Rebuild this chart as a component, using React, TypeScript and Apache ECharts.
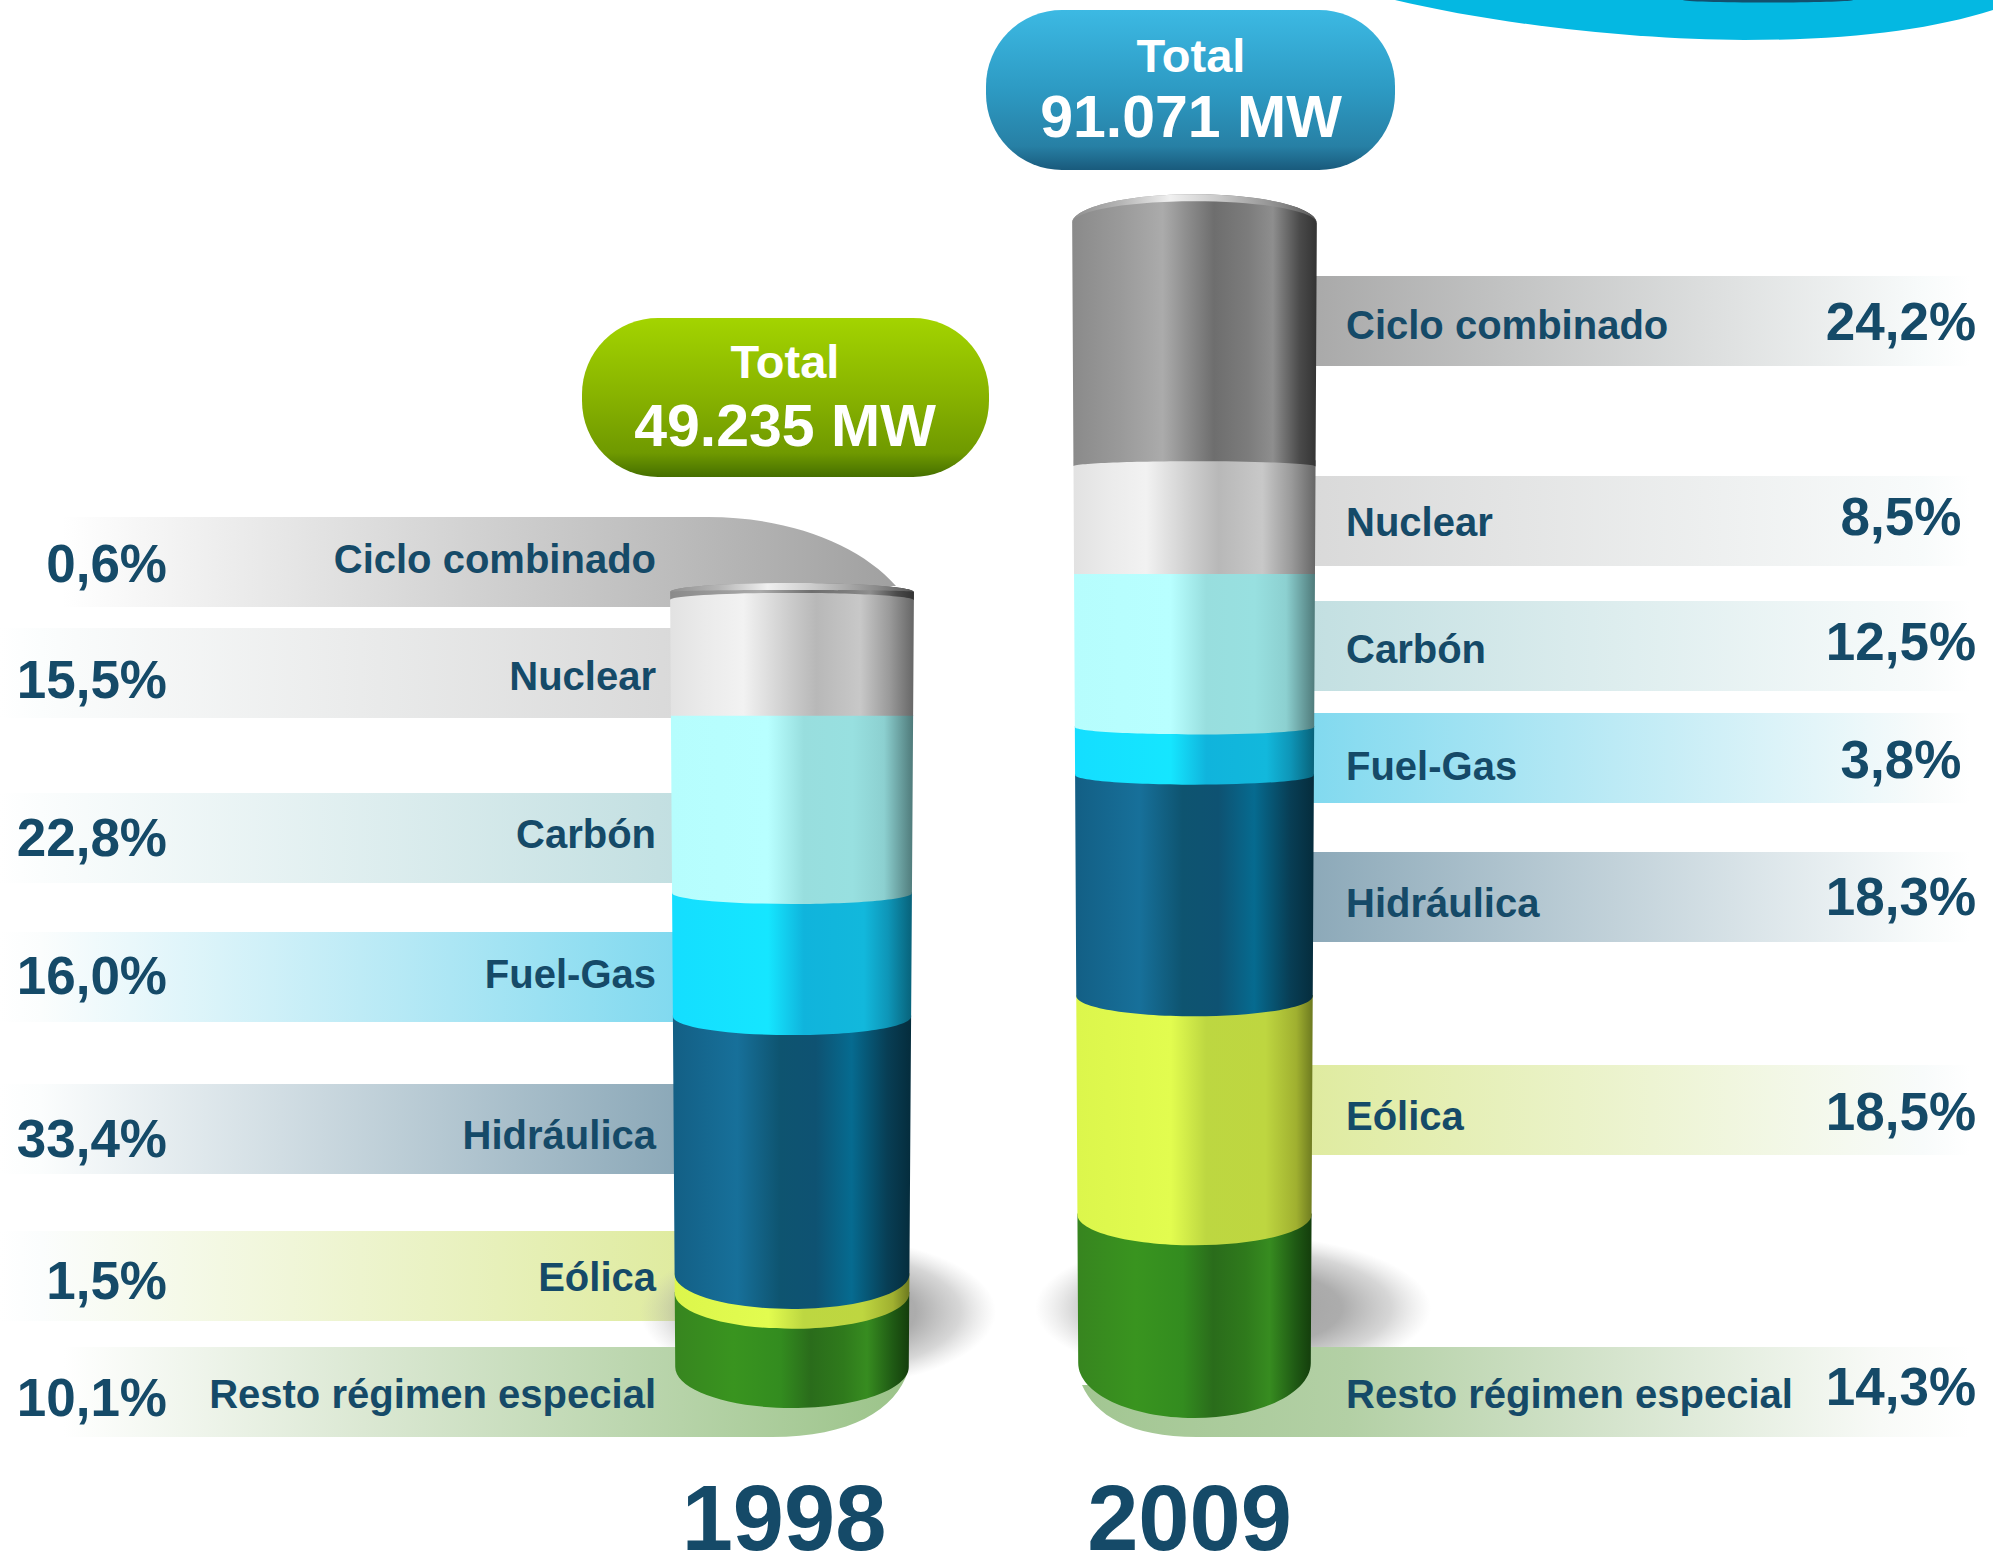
import React, { useEffect, useRef } from "react";
import * as echarts from "echarts";

// ---- data ----
const sources = ["Ciclo combinado", "Nuclear", "Carbón", "Fuel-Gas", "Hidráulica", "Eólica", "Resto régimen especial"];
const years = ["1998", "2009"];
const totalLabel = "Total";
const totals = ["49.235 MW", "91.071 MW"];
const percent1998 = ["0,6%", "15,5%", "22,8%", "16,0%", "33,4%", "1,5%", "10,1%"];
const percent2009 = ["24,2%", "8,5%", "12,5%", "3,8%", "18,3%", "18,5%", "14,3%"];
// share of the column height each band takes as drawn (top to bottom), in %
const drawn1998 = [1.2, 14.9, 22.8, 15.9, 33.2, 2.4, 9.6];
const drawn2009 = [21.8, 9.2, 13.1, 4.1, 18.9, 18.7, 14.1];

// ---- layout (not data) ----
const BAND_H = 90;
const leftBandTops = [517, 628, 793, 932, 1084, 1231, 1347];
const rightBandTops = [276, 476, 601, 713, 852, 1065, 1347];
const leftLabelY = [559, 676, 834, 974, 1135, 1277, 1394];
const leftPctY = [563, 679, 837, 975, 1138, 1280, 1397];
const rightLabelY = [325, 522, 649, 766, 903, 1116, 1394];
const rightPctY = [321, 516, 641, 759, 896, 1111, 1386];
const bandColors = ["#a8a8a8", "#d9d9d9", "#c2dfe1", "#80d9ef", "#8ba8b8", "#dfeb9f", "#a8cb98"];
const TEXT = "#154a68";
const FONT = '"Liberation Sans", Arial, sans-serif';

type Stop = [number, string];
const surfaces: Stop[][] = [
  [[0, "#8a8a8a"], [0.2, "#9a9a9a"], [0.37, "#ababab"], [0.47, "#8d8d8d"], [0.58, "#6e6e6e"], [0.72, "#7c7c7c"], [0.82, "#8e8e8e"], [0.93, "#4a4a4a"], [1, "#333333"]],
  [[0, "#e2e2e2"], [0.15, "#ebebeb"], [0.3, "#f2f2f2"], [0.5, "#cacaca"], [0.6, "#b8b8b8"], [0.78, "#c8c8c8"], [0.9, "#9a9a9a"], [1, "#666666"]],
  [[0, "#b6fdfd"], [0.4, "#b8ffff"], [0.55, "#98dede"], [0.75, "#98e0e0"], [0.88, "#8cd0d0"], [1, "#4f7a7a"]],
  [[0, "#14deff"], [0.4, "#15e6ff"], [0.55, "#10b4dc"], [0.8, "#12b8dc"], [0.9, "#0e96b8"], [1, "#08627a"]],
  [[0, "#135f85"], [0.27, "#17709a"], [0.45, "#0e5470"], [0.6, "#0e5272"], [0.75, "#066b90"], [0.9, "#083e55"], [1, "#052c3c"]],
  [[0, "#dcf64c"], [0.4, "#e2fc4f"], [0.55, "#bdd741"], [0.8, "#bed640"], [0.93, "#a0b030"], [1, "#6d7a20"]],
  [[0, "#37851f"], [0.25, "#39941f"], [0.45, "#338c1f"], [0.58, "#2a6c1b"], [0.72, "#2f7a1c"], [0.82, "#378c20"], [0.93, "#1f5a14"], [1, "#143d0c"]],
];

// geometry of the two cylinders: sag of a seam grows with the distance from the eye-level line
const cyl = [
  { left: 670, width: 244, top: 583, bottom: 1408, horizon: 715, k: 0.062, lidSag: 9, bottomSag: 41, taper: 5.5 },
  { left: 1072, width: 245, top: 193, bottom: 1418, horizon: 573, k: 0.048, lidSag: 29, bottomSag: 55, taper: 6.5 },
];

function linear(stops: Stop[]) {
  return new echarts.graphic.LinearGradient(0, 0, 1, 0, stops.map(([offset, color]) => ({ offset, color })));
}
function vertical(stops: Stop[]) {
  return new echarts.graphic.LinearGradient(0, 0, 0, 1, stops.map(([offset, color]) => ({ offset, color })));
}

const K = 0.5523;
function arc(xr: number, xl: number, y: number, s: number) {
  const c = (xr + xl) / 2;
  const r = (xr - xl) / 2;
  return `C ${xr} ${y + K * s} ${c + K * r} ${y + s} ${c} ${y + s} C ${c - K * r} ${y + s} ${xl} ${y + K * s} ${xl} ${y}`;
}

function makeRender(i: number) {
  const g = cyl[i];
  const n = sources.length;
  const inset = (y: number) => ((y - g.top) / (g.bottom - g.top)) * g.taper;
  return (_params: any, api: any) => {
    const idx = api.value(3);
    const yLow = api.coord([0, api.value(1)])[1];
    const yHigh = api.coord([0, api.value(2)])[1];
    const isTop = idx === 0;
    const isBottom = idx === n - 1;
    const seamEdge = (c: number) => (c + g.k * g.horizon) / (1 + g.k);
    const topEdge = isTop ? yHigh + g.lidSag : seamEdge(yHigh);
    const botEdge = isBottom ? yLow - g.bottomSag : seamEdge(yLow);
    const botSag = yLow - botEdge;
    const topSag = yHigh - topEdge;
    const xlT = g.left + inset(topEdge);
    const xrT = g.left + g.width - inset(topEdge);
    const xlB = g.left + inset(botEdge);
    const xrB = g.left + g.width - inset(botEdge);
    const cT = (xlT + xrT) / 2;
    const rT = (xrT - xlT) / 2;
    // outline: top boundary (lid arc or straight), right side, bottom arc, left side
    const top = isTop
      ? `M ${xlT} ${topEdge} C ${xlT} ${topEdge + K * topSag} ${cT - K * rT} ${topEdge + topSag} ${cT} ${topEdge + topSag} C ${cT + K * rT} ${topEdge + topSag} ${xrT} ${topEdge + K * topSag} ${xrT} ${topEdge}`
      : `M ${xlT} ${Math.min(topEdge, yHigh) - 1} L ${xrT} ${Math.min(topEdge, yHigh) - 1} L ${xrT} ${topEdge}`;
    const path = `${top} L ${xrB} ${botEdge} ${arc(xrB, xlB, botEdge, botSag)} Z`;
    const children: any[] = [
      { type: "path", shape: { pathData: path }, style: { fill: linear(surfaces[idx]) } },
    ];
    if (isTop) {
      const s2 = topSag + 7;
      const rim = `M ${xlT} ${topEdge} C ${xlT} ${topEdge + K * topSag} ${cT - K * rT} ${topEdge + topSag} ${cT} ${topEdge + topSag} C ${cT + K * rT} ${topEdge + topSag} ${xrT} ${topEdge + K * topSag} ${xrT} ${topEdge} C ${xrT} ${topEdge + K * s2} ${cT + K * rT} ${topEdge + s2} ${cT} ${topEdge + s2} C ${cT - K * rT} ${topEdge + s2} ${xlT} ${topEdge + K * s2} ${xlT} ${topEdge} Z`;
      children.push({
        type: "path",
        shape: { pathData: rim },
        style: {
          fill: linear([[0, "#8f8f8f"], [0.2, "#b5b5b5"], [0.4, "#f0f0f0"], [0.6, "#c9c9c9"], [0.85, "#8a8a8a"], [1, "#555555"]]),
        },
      });
    }
    return { type: "group", children };
  };
}

function seriesData(i: number, shares: number[]) {
  const out: any[] = [];
  let cum = 0;
  for (let s = shares.length - 1; s >= 0; s--) {
    out.push([years[i], cum, cum + shares[s], s]);
    cum += shares[s];
  }
  return out;
}

const leftCicloPath = "M 0 517 L 708 517 C 790 517 860 545 896 586 L 672 592 L 672 607 L 0 607 Z";
const leftRestoPath = "M 0 1347 L 800 1347 L 800 1371 L 908 1371 C 896 1410 850 1437 772 1437 L 0 1437 Z";
const rightRestoPath = "M 1195 1347 L 1970 1347 L 1970 1437 L 1197 1437 C 1130 1437 1095 1415 1082 1385 L 1195 1385 Z";
const swooshPath = "M 1395 0 C 1500 25 1640 40 1744 40 C 1850 40 1930 30 1993 10 L 1993 0 Z";
echarts.graphic.registerShape("leftCiclo", echarts.graphic.extendPath(leftCicloPath, {}));
echarts.graphic.registerShape("leftResto", echarts.graphic.extendPath(leftRestoPath, {}));
echarts.graphic.registerShape("rightResto", echarts.graphic.extendPath(rightRestoPath, {}));
echarts.graphic.registerShape("swoosh", echarts.graphic.extendPath(swooshPath, {}));

function text(t: string, x: number, y: number, size: number, align: string, fill = TEXT) {
  return {
    type: "text",
    x,
    y,
    z: 20,
    style: {
      text: t,
      fill,
      font: `bold ${size}px ${FONT}`,
      textAlign: align,
      align,
      textVerticalAlign: "middle",
      verticalAlign: "middle",
    },
  };
}

function buildGraphics() {
  const els: any[] = [];
  // top-right swoosh
  els.push({ type: "swoosh", z: 1, style: { fill: "#04b8e2" } });
  els.push({ type: "ellipse", z: 1, shape: { cx: 1768, cy: 0, rx: 85, ry: 2.5 }, style: { fill: "#13506e" } });

  // bands
  for (let i = 0; i < sources.length; i++) {
    const color = bandColors[i];
    if (i === 0) {
      els.push({
        type: "leftCiclo",
        z: 2,
        style: { fill: linear([[0, "#ffffff"], [0.07, "#ffffff"], [0.4, "#dedede"], [0.75, "#bcbcbc"], [1, "#a0a0a0"]]) },
      });
    } else if (i < 6) {
      els.push({
        type: "rect",
        z: 2,
        shape: { x: 0, y: leftBandTops[i], width: 680, height: BAND_H },
        style: { fill: linear([[0, "#ffffff"], [0.06, "#fbfdfd"], [1, color]]) },
      });
    }
    if (i < 6) {
      els.push({
        type: "rect",
        z: 2,
        shape: { x: 1305, y: rightBandTops[i], width: 665, height: BAND_H },
        style: { fill: linear([[0, color], [0.93, "#f8fbfb"], [1, "#ffffff"]]) },
      });
    }
  }

  // ground shadows of the cylinders
  const shadow = [
    [0, "rgba(140,140,140,0.85)"],
    [0.55, "rgba(145,145,145,0.75)"],
    [0.8, "rgba(165,165,165,0.45)"],
    [1, "rgba(190,190,190,0)"],
  ].map(([offset, color]) => ({ offset: offset as number, color: color as string }));
  els.push({
    type: "ellipse",
    z: 3,
    shape: { cx: 818, cy: 1312, rx: 178, ry: 76 },
    style: { fill: new echarts.graphic.RadialGradient(0.5, 0.5, 0.5, shadow) },
  });
  els.push({
    type: "ellipse",
    z: 3,
    shape: { cx: 1233, cy: 1308, rx: 198, ry: 74 },
    style: { fill: new echarts.graphic.RadialGradient(0.5, 0.5, 0.5, shadow) },
  });

  // bands that pass under the cylinders, above the shadows
  els.push({
    type: "leftResto",
    z: 4,
    style: { fill: linear([[0, "#ffffff"], [0.07, "#ffffff"], [0.4, "#dbe8d3"], [0.75, "#b6d3a8"], [1, "#9bc389"]]) },
  });
  els.push({
    type: "rightResto",
    z: 4,
    style: { fill: linear([[0, "#a2c692"], [0.3, "#b3d0a5"], [0.6, "#d5e4cd"], [0.9, "#f8faf7"], [1, "#ffffff"]]) },
  });

  // pills
  els.push({
    type: "rect",
    z: 6,
    shape: { x: 582, y: 318, width: 407, height: 159, r: 76 },
    style: { fill: vertical([[0, "#a3d400"], [0.5, "#87b200"], [0.85, "#6f9900"], [1, "#456f00"]]) },
  });
  els.push({
    type: "rect",
    z: 6,
    shape: { x: 986, y: 10, width: 409, height: 160, r: 76 },
    style: { fill: vertical([[0, "#3cb9e3"], [0.5, "#2d9ac3"], [0.85, "#2780a5"], [1, "#195a7c"]]) },
  });
  els.push(text(totalLabel, 785, 361, 47, "center", "#ffffff"));
  els.push(text(totals[0], 785, 426, 59, "center", "#ffffff"));
  els.push(text(totalLabel, 1191, 55, 47, "center", "#ffffff"));
  els.push(text(totals[1], 1191, 117, 59, "center", "#ffffff"));

  // labels
  for (let i = 0; i < sources.length; i++) {
    els.push(text(sources[i], 656, leftLabelY[i], 40, "right"));
    els.push(text(percent1998[i], 167, leftPctY[i], 53, "right"));
    els.push(text(sources[i], 1346, rightLabelY[i], 40, "left"));
    els.push(text(percent2009[i], 1901, rightPctY[i], 53, "center"));
  }
  return els;
}

export default function App() {
  const ref = useRef<HTMLDivElement>(null);
  useEffect(() => {
    document.body.style.margin = "0";
    const chart = echarts.init(ref.current!, undefined, { renderer: "svg" });
    const mkGrid = (i: number) => ({
      left: cyl[i].left,
      width: cyl[i].width,
      top: cyl[i].top,
      height: cyl[i].bottom - cyl[i].top,
      show: false,
      outerBoundsMode: "none",
    });
    const mkX = (i: number) => ({
      type: "category",
      gridIndex: i,
      data: [years[i]],
      axisLine: { show: false },
      axisTick: { show: false },
      splitLine: { show: false },
      axisLabel: {
        margin: i === 0 ? 74 : 64,
        fontFamily: FONT,
        fontWeight: "bold",
        fontSize: 92,
        lineHeight: 72,
        color: TEXT,
        padding: i === 0 ? [0, 16, 0, 0] : [0, 10, 0, 0],
        interval: 0,
      },
    });
    const mkY = (i: number) => ({ type: "value", gridIndex: i, min: 0, max: 100, show: false });
    chart.setOption({
      animation: false,
      backgroundColor: "#ffffff",
      grid: [mkGrid(0), mkGrid(1)],
      xAxis: [mkX(0), mkX(1)],
      yAxis: [mkY(0), mkY(1)],
      graphic: { elements: buildGraphics() },
      series: [
        {
          type: "custom",
          name: years[0],
          coordinateSystem: "cartesian2d",
          xAxisIndex: 0,
          yAxisIndex: 0,
          z: 5,
          clip: false,
          silent: true,
          renderItem: makeRender(0),
          encode: { x: 0, y: [1, 2] },
          data: seriesData(0, drawn1998),
        },
        {
          type: "custom",
          name: years[1],
          coordinateSystem: "cartesian2d",
          xAxisIndex: 1,
          yAxisIndex: 1,
          z: 5,
          clip: false,
          silent: true,
          renderItem: makeRender(1),
          encode: { x: 0, y: [1, 2] },
          data: seriesData(1, drawn2009),
        },
      ],
    });
    return () => chart.dispose();
  }, []);
  return <div ref={ref} style={{ position: "absolute", left: 0, top: 0, width: 1993, height: 1554 }} />;
}
